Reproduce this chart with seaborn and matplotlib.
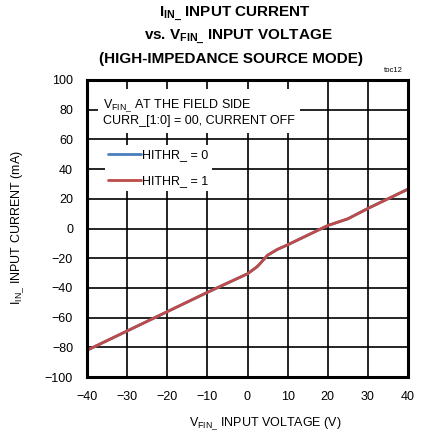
import numpy as np
import pandas as pd
import matplotlib
matplotlib.use("Agg")
import matplotlib.pyplot as plt
import seaborn as sns

sns.set_style("white")
plt.rcParams['font.family'] = ['Liberation Sans', 'DejaVu Sans']
plt.rcParams['mathtext.default'] = 'regular'
plt.rcParams['text.color'] = 'black'
plt.rcParams['xtick.color'] = 'black'
plt.rcParams['ytick.color'] = 'black'

# data
vfin = [-40, -30, -20, -10, 0, 2.5, 5, 7.5, 10, 15, 20, 25, 30, 35, 40]
iin_hithr0 = [-82, -69, -56, -43, -30.5, -25.5, -18, -14, -11, -4.5, 2, 6.5, 13.5, 20, 26.5]
iin_hithr1 = [-82, -69, -56, -43, -30.5, -25.5, -18, -14, -11, -4.5, 2, 6.5, 13.5, 20, 26.5]
series_names = ["HITHR_ = 0", "HITHR_ = 1"]
xticks = list(range(-40, 41, 10))
yticks = list(range(-100, 101, 20))

df = pd.concat([
    pd.DataFrame({"V": vfin, "I": iin_hithr0, "s": series_names[0]}),
    pd.DataFrame({"V": vfin, "I": iin_hithr1, "s": series_names[1]}),
])

fig = plt.figure(figsize=(4.21, 4.38), dpi=100)
ax = fig.add_axes([87 / 421, 1 - 377 / 438, (408 - 87) / 421, (377 - 80) / 438])

sns.lineplot(data=df, x="V", y="I", hue="s", palette=["#4a7ebb", "#be4b48"],
             linewidth=2.0, ax=ax, legend=False)

ax.set_xlim(-40, 40)
ax.set_ylim(-100, 100)
ax.set_xticks(xticks)
ax.set_yticks(yticks)
ax.grid(True, color="black", linewidth=1.2)
ax.set_axisbelow(True)
for sp in ax.spines.values():
    sp.set_linewidth(2.2)
    sp.set_color("black")
    sp.set_visible(True)
ax.tick_params(length=0, labelsize=9, pad=10)
ax.set_xlabel("")
ax.set_ylabel("")

# text box
ax.text(-36, 88, "V$_{FIN\\_}$ AT THE FIELD SIDE\nCURR_[1:0] = 00, CURRENT OFF",
        fontsize=9, va="top", ha="left", linespacing=1.1,
        bbox=dict(facecolor="white", edgecolor="none", pad=4))

leg = ax.legend(handles=ax.get_lines()[:2], labels=series_names, loc="upper left",
                bbox_to_anchor=(0.055, 0.78), fontsize=9, handlelength=2.6,
                handletextpad=0.05, labelspacing=1.15, frameon=True, fancybox=False,
                borderpad=0.3, borderaxespad=0)
leg.get_frame().set_facecolor("white")
leg.get_frame().set_edgecolor("none")
leg.get_frame().set_alpha(1)

# titles and labels
fig.text(235 / 421, 1 - 14 / 438, "I$_{IN\\_}$ INPUT CURRENT", ha="center", va="center",
         fontsize=11, fontweight="bold")
fig.text(238 / 421, 1 - 37 / 438, "vs. V$_{FIN\\_}$ INPUT VOLTAGE", ha="center", va="center",
         fontsize=11, fontweight="bold")
fig.text(231 / 421, 1 - 59 / 438, "(HIGH-IMPEDANCE SOURCE MODE)", ha="center", va="center",
         fontsize=11, fontweight="bold")
fig.text(393 / 421, 1 - 70 / 438, "toc12", ha="center", va="center", fontsize=5.5)
fig.text(265 / 421, 1 - 424 / 438, "V$_{FIN\\_}$ INPUT VOLTAGE (V)", ha="center", va="center",
         fontsize=9)
fig.text(18 / 421, 1 - 228 / 438, "I$_{IN\\_}$ INPUT CURRENT (mA)", ha="center", va="center",
         rotation=90, fontsize=9)

fig.savefig("out.png", dpi=100)
